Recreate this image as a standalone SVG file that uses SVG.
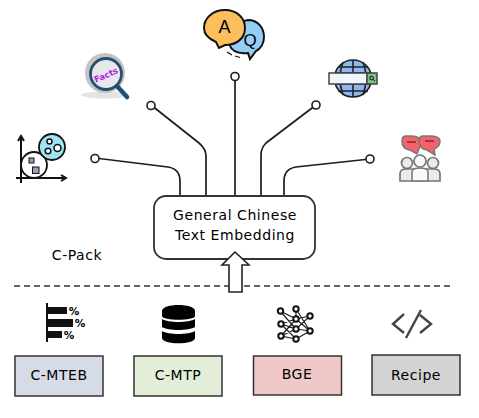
<svg xmlns="http://www.w3.org/2000/svg" width="479" height="418" viewBox="0 0 479 418">
<style>
text{font-family:"DejaVu Sans","Liberation Sans",sans-serif;font-size:14px;fill:#000;text-anchor:middle;letter-spacing:.55px}
.wire{fill:none;stroke:#1c1c1c;stroke-width:1.7}
.dot{fill:#fff;stroke:#1c1c1c;stroke-width:1.6}
.box{stroke:#333;stroke-width:1.5}
.p{fill:#e9ebec;stroke:#777;stroke-width:1.7}
.n{fill:#fff;stroke:#111;stroke-width:2}
</style>
<rect width="479" height="418" fill="#fff"/>
<g id="connectors">
<path class="wire" d="M95 158L168 167Q180 169 180 181V196"/>
<path class="wire" d="M151 105L199 143Q206 149 206 156V196"/>
<path class="wire" d="M235 76V196"/>
<path class="wire" d="M316 105L266 143Q261 148 261 155V196"/>
<path class="wire" d="M370 159L296 167Q284 169 284 181V196"/>
<circle class="dot" cx="95" cy="158.500" r="4"/>
<circle class="dot" cx="151" cy="105.500" r="4"/>
<circle class="dot" cx="235" cy="76.500" r="4"/>
<circle class="dot" cx="316" cy="105" r="4"/>
<circle class="dot" cx="370" cy="159" r="4"/>
<path d="M14 286H452" fill="none" stroke="#333" stroke-width="1.300" stroke-dasharray="6 4"/>
</g>
<g id="main">
<rect x="154" y="196" width="161" height="63" rx="12" fill="#fff" stroke="#333" stroke-width="1.800"/>
<text x="235" y="220">General Chinese</text>
<text x="235" y="240">Text Embedding</text>
</g>
<g id="arrow"><path d="M235 252L249 265H242V292H229V265H222Z" fill="#fff" stroke="#222" stroke-width="1.600"/></g>
<g id="c-pack-label"><text x="77" y="260">C-Pack</text></g>
<g id="icon-scatter">
<path d="M21 137V183M16 178H65M18 141L21 136L24 141M61 175L66 178L61 181" fill="none" stroke="#111" stroke-width="2"/>
<circle cx="34" cy="165" r="13" fill="#fff" stroke="#111" stroke-width="1.800"/>
<circle cx="52" cy="147" r="13" fill="#9ce6f2" stroke="#111" stroke-width="1.800"/>
<circle cx="49.500" cy="141.500" r="2.500" fill="#fff" stroke="#111" stroke-width="1.500"/>
<circle cx="48" cy="151" r="2.800" fill="#fff" stroke="#111" stroke-width="1.500"/>
<circle cx="57.500" cy="148" r="3.500" fill="#fff" stroke="#111" stroke-width="1.500"/>
<rect x="29" y="158" width="5" height="5" fill="#9a9ac4" stroke="#111"/>
<rect x="32.500" y="167" width="6.500" height="6.500" fill="#9a9ac4" stroke="#111"/>
</g>
<g id="icon-facts">
<ellipse cx="105" cy="95" rx="24" ry="3.500" fill="#e4e4e4"/>
<circle cx="105" cy="73" r="20" fill="#c4c4c4"/>
<circle cx="106" cy="74" r="15.500" fill="#e8e8ec" stroke="#25506f" stroke-width="2.800"/>
<path d="M117 86L127 97" stroke="#1f4f78" stroke-width="4.500" stroke-linecap="round"/>
<text x="106" y="78" transform="rotate(-24 106 75)" style="font-size:8.500px;font-weight:700;fill:#b41ee6;letter-spacing:0">Facts</text>
</g>
<g id="icon-qa">
<path d="M248 20C258 20 264 28 264 37C264 44 260 49 256 51L250 59L248 53C240 54 232 52 229 44L240 22Z" fill="#93cff5" stroke="#111" stroke-width="2"/>
<path d="M225 10C237 10 245 18 245 28C245 39 236 45 225 45L219 48L216 42C209 39 204 34 204 28C204 18 213 10 225 10Z" fill="#fdbf5e" stroke="#111" stroke-width="2"/>
<path d="M227 52L232 55M235 56L240 57.500" stroke="#111" stroke-width="1.300" fill="none"/>
<text x="224.500" y="33" style="font-size:18px;letter-spacing:0;font-family:'Liberation Sans',sans-serif">A</text>
<text x="250" y="46" style="font-size:17px;letter-spacing:0;font-family:'Liberation Sans',sans-serif">Q</text>
</g>
<g id="icon-globe">
<circle cx="353" cy="78.500" r="18.500" fill="#8fb8f2" stroke="#222" stroke-width="1.600"/>
<path d="M353 60V97M343 62Q337 78 343 95M363 62Q369 78 363 95M338 67H368M335 73H371M335 84H371M338 91H368" fill="none" stroke="#222" stroke-width="1.600"/>
<rect x="329" y="73" width="38" height="11" fill="#eef5fc" stroke="#444" stroke-width="1.500"/>
<rect x="367" y="73" width="10" height="11" fill="#7cc08a" stroke="#444" stroke-width="1.500"/>
<circle cx="371.500" cy="78" r="1.800" fill="none" stroke="#111"/>
<path d="M373 79.500L375 81" stroke="#111"/>
</g>
<g id="icon-people">
<path d="M412 136H406Q402 136 402 141Q402 149 410 150L417 154L419 149Q420 147 420 142Q420 136 412 136Z" fill="#f4636c" stroke="#777" stroke-width="1.500"/>
<path d="M429 136H423Q419 136 419 141Q419 149 427 150L435 155L434 149Q440 147 440 141Q440 136 429 136Z" fill="#f4636c" stroke="#777" stroke-width="1.500"/>
<path d="M407 142H416M425 141H434" stroke="#8c2630" stroke-width="1.600"/>
<path class="p" d="M400 181V174Q400 169 406 169H434Q440 169 440 174V181Z"/>
<path d="M412 181V172Q412 168 420 168Q428 168 428 172V181Z" fill="#f8f9fa" stroke="#777" stroke-width="1.500"/>
<circle class="p" cx="407" cy="163" r="5.500"/>
<circle class="p" cx="433" cy="163" r="5.500"/>
<circle cx="420" cy="161" r="6" fill="#f8f9fa" stroke="#777" stroke-width="1.700"/>
</g>
<g id="node-c-mteb">
<path d="M47 303V342" stroke="#111" stroke-width="2"/>
<rect x="47" y="307" width="20" height="7" fill="#111"/>
<rect x="47" y="319" width="26" height="8" fill="#111"/>
<rect x="47" y="331" width="15" height="7" fill="#111"/>
<text x="74" y="315" style="font-size:10.500px;font-weight:700;letter-spacing:0">%</text>
<text x="80" y="327" style="font-size:10.500px;font-weight:700;letter-spacing:0">%</text>
<text x="69" y="339" style="font-size:10.500px;font-weight:700;letter-spacing:0">%</text>
<rect class="box" x="15" y="356" width="88" height="40" fill="#d5dce8"/>
<text x="59" y="380">C-MTEB</text>
</g>
<g id="node-c-mtp">
<path d="M162 311C162 303 195 303 195 311V316C195 321 162 321 162 316Z" fill="#000"/>
<path d="M162 319C168 323 189 323 195 319V327C189 331 168 331 162 327Z" fill="#000"/>
<path d="M162 331C168 335 189 335 195 331V338C195 345 162 345 162 338Z" fill="#000"/>
<rect class="box" x="134" y="356" width="88" height="40" fill="#e2eed8"/>
<text x="178" y="380">C-MTP</text>
</g>
<g id="node-bge">
<path d="M280 311L296 319L281 324L296 329L281 336L296 339M280 311L296 329M296 309L296 319L310 316M296 309L310 331M281 324L296 319M281 324L296 339M296 319L310 331M296 329L310 316M296 329L310 331M281 336L296 319M296 339L310 331" fill="none" stroke="#222" stroke-width="1.200"/>
<g class="n">
<circle cx="280.500" cy="311" r="2.700"/><circle cx="296" cy="309" r="2.700"/><circle cx="310" cy="316" r="2.700"/><circle cx="296" cy="319" r="2.700"/><circle cx="281" cy="324" r="2.700"/><circle cx="296" cy="329" r="2.700"/><circle cx="310" cy="331" r="2.700"/><circle cx="281" cy="336" r="2.700"/><circle cx="296" cy="339" r="2.700"/>
</g>
<rect class="box" x="253.500" y="356" width="88" height="39" fill="#f0c8c8"/>
<text x="297" y="379">BGE</text>
</g>
<g id="node-recipe">
<path d="M404 314L393 324L404 333M420 315L431 324L420 333M421 310L406 338" fill="none" stroke="#444" stroke-width="2.400"/>
<rect class="box" x="372" y="355" width="88" height="40" fill="#d3d3d3"/>
<text x="416" y="380">Recipe</text>
</g>
</svg>
